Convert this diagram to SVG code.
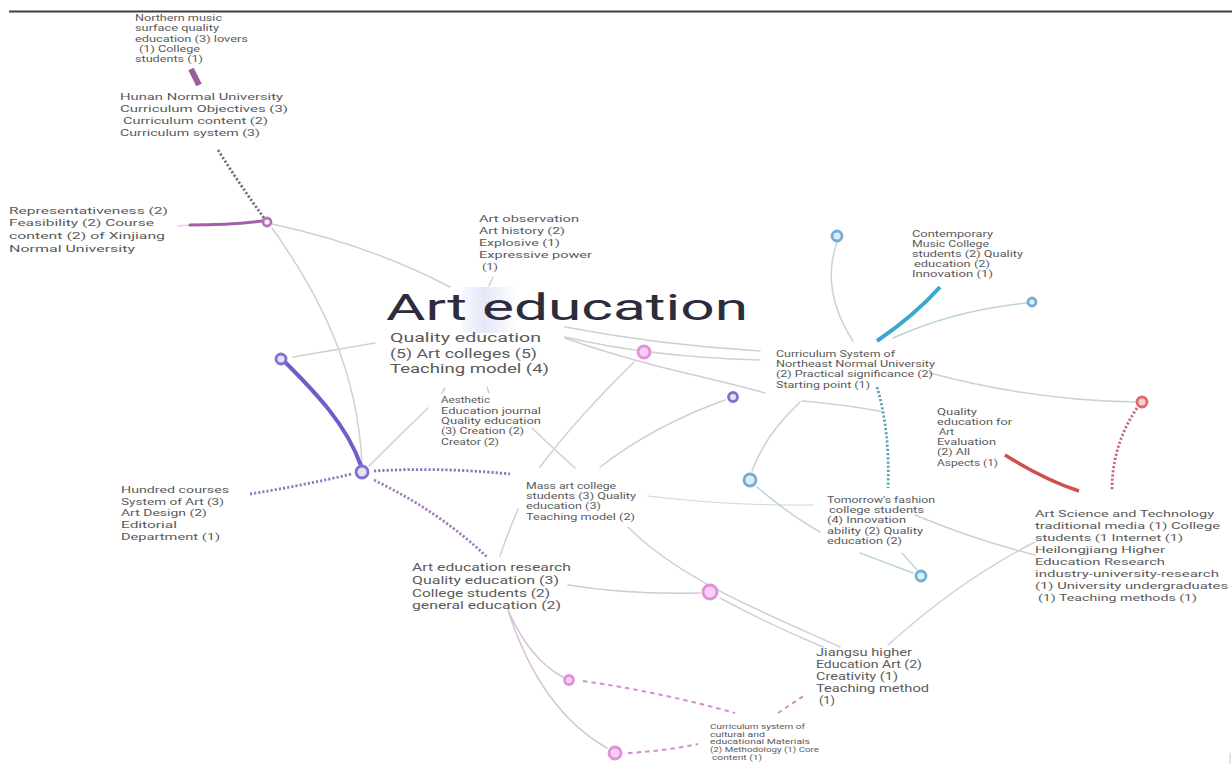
<svg xmlns="http://www.w3.org/2000/svg" width="1232" height="764" viewBox="0 0 1232 764">
<style>
text{font-family:Roboto,"Liberation Sans",sans-serif;fill:#5a5a5a;}
.t{font-size:36px;fill:#2c2c3c;}
.s13{font-size:12.8px;}.s11{font-size:10.2px;}.s10{font-size:9.6px;}.s9{font-size:8.5px;}.s8{font-size:8.5px;}.s6{font-size:6.3px;}
#connectors path{fill:none;stroke:#d0d0d3;stroke-width:1.5;stroke-linecap:round;}
#connectors path.thin{stroke:#b9c7c6;stroke-width:.8;stroke-dasharray:2 1;}
#connectors path.dot{stroke-width:2.8;stroke-dasharray:2.2 2;stroke-linecap:butt;}
#connectors path.dash{stroke-width:2;stroke-dasharray:4.5 4;stroke-linecap:butt;stroke:#d68ad0;}
circle{stroke-width:2.8;}
.p{stroke:#b273b4;fill:#faf2f9;}.v{stroke:#7f72cc;fill:#e4e0f6;}.k{stroke:#e08fdd;fill:#f6d0f3;}
.b{stroke:#74add6;fill:#e0edf6;}.r{stroke:#e0686e;fill:#f9cfd0;}
</style>
<defs>
<linearGradient id="hl" x1="0" y1="0" x2="1" y2="0"><stop offset="0" stop-color="#e6e8f9" stop-opacity=".3"/><stop offset=".4" stop-color="#e6e8f9"/><stop offset="1" stop-color="#e6e8f9" stop-opacity="0"/></linearGradient>
</defs>
<rect width="1232" height="764" fill="#fff"/>
<path d="M9 11.5H1232" stroke="#3f3f3f" stroke-width="1.8" fill="none"/>
<path d="M1230 753V764" stroke="#ccc" stroke-width="1" fill="none"/>
<rect x="462" y="287" width="56" height="46" fill="url(#hl)"/>
<g id="connectors">
<path d="M191 69L199 85" style="stroke:#9c5f9f;stroke-width:6;stroke-linecap:butt"/>
<path class="dot" d="M218 150Q240 185 264 218" style="stroke:#7c6a80"/>
<path d="M178 226L190 225" style="stroke:#e8cfe6"/>
<path d="M190 225Q230 225 262 221" style="stroke:#a35fa8;stroke-width:3"/>
<path d="M272 224Q370 245 450 287"/>
<path d="M272 228C320 295 358 370 362 465"/>
<path d="M285 362C315 392 347 425 361 466" style="stroke:#6c60c8;stroke-width:4"/>
<path d="M293 357L375 343"/>
<path d="M369 466Q400 435 428 408"/>
<path d="M442 393L445 388"/>
<path d="M487 387L489 393"/>
<path d="M493 277L489 286"/>
<path class="dot" d="M250 494Q300 486 352 474" style="stroke:#8a7fc0"/>
<path class="dot" d="M374 471Q440 467 510 474" style="stroke:#8f75b8"/>
<path class="dot" d="M374 480Q440 512 487 557" style="stroke:#a77cb8"/>
<path d="M634 362Q575 420 540 467"/>
<path d="M518 509Q507 535 500 556"/>
<path d="M565 327Q660 345 760 351"/>
<path d="M565 337Q650 357 760 360"/>
<path d="M565 338C640 365 700 375 765 393"/>
<path d="M802 401Q850 405 883 412"/>
<path d="M800 402Q765 435 752 471" style="stroke:#c5d0d8"/>
<path d="M725 400Q655 425 600 467"/>
<path d="M532 428Q555 450 575 468"/>
<path d="M837 242Q820 290 853 341" style="stroke:#c9d3d6"/>
<path d="M877 341Q915 315 940 287" style="stroke:#3ba8cb;stroke-width:4;stroke-linecap:butt"/>
<path d="M893 338Q955 310 1027 303" style="stroke:#bcd2d4"/>
<path d="M930 373Q1030 400 1135 402"/>
<path class="dot" d="M1137 408Q1112 445 1112 490" style="stroke:#c46b76"/>
<path d="M1005 455Q1045 480 1079 491" style="stroke:#cf4f50;stroke-width:3.5;stroke-linecap:butt"/>
<path class="dot" d="M877 387Q890 430 888 488" style="stroke:#5ea6b0"/>
<path d="M757 487Q790 515 820 532" style="stroke:#c3d3da"/>
<path class="thin" d="M648 496Q730 506 813 505"/>
<path d="M860 553L913 573" style="stroke:#bfd6dc"/>
<path d="M902 553L917 570" style="stroke:#bfd6dc"/>
<path d="M915 515Q975 540 1035 555"/>
<path d="M1035 542Q960 580 888 645"/>
<path d="M628 527C680 580 770 615 840 647"/>
<path d="M720 598Q770 625 823 647"/>
<path d="M568 585Q630 595 700 593" style="stroke:#d8c8d8"/>
<path d="M508 610Q530 660 563 677" style="stroke:#dcb9da"/>
<path d="M508 610Q540 710 607 748" style="stroke:#d5c4d6"/>
<path class="dash" d="M583 681Q660 692 735 713"/>
<path class="dash" d="M628 753Q665 751 698 744"/>
<path class="dash" d="M778 713L805 695"/>
</g>
<g id="n-dot-1"><circle class="p" cx="267" cy="222" r="4"/></g>
<g id="n-dot-2"><circle class="v" cx="281" cy="359" r="5"/></g>
<g id="n-dot-3"><circle class="v" cx="362" cy="472" r="6"/></g>
<g id="n-dot-4"><circle class="k" cx="644" cy="352" r="6"/></g>
<g id="n-dot-5"><circle class="v" cx="733" cy="397" r="4.5"/></g>
<g id="n-dot-6"><circle class="b" cx="837" cy="236" r="5"/></g>
<g id="n-dot-7"><circle class="b" cx="1032" cy="302" r="4"/></g>
<g id="n-dot-8"><circle class="b" cx="750" cy="480" r="6"/></g>
<g id="n-dot-9"><circle class="b" cx="921" cy="576" r="5"/></g>
<g id="n-dot-10"><circle class="r" cx="1142" cy="402" r="5"/></g>
<g id="n-dot-11"><circle class="k" cx="710" cy="592" r="7"/></g>
<g id="n-dot-12"><circle class="k" cx="569" cy="680" r="4.5"/></g>
<g id="n-dot-13"><circle class="k" cx="615" cy="753" r="6"/></g>

<g id="n-northern">
<text class="s8" x="135" y="21" textLength="87" lengthAdjust="spacingAndGlyphs">Northern music</text>
<text class="s8" x="135" y="31" textLength="84" lengthAdjust="spacingAndGlyphs">surface quality</text>
<text class="s8" x="135" y="41.5" textLength="113" lengthAdjust="spacingAndGlyphs">education (3) lovers</text>
<text class="s8" x="139" y="52" textLength="61" lengthAdjust="spacingAndGlyphs">(1) College</text>
<text class="s8" x="135" y="62" textLength="68" lengthAdjust="spacingAndGlyphs">students (1)</text>
</g>
<g id="n-hunan">
<text class="s10" x="120" y="100" textLength="163" lengthAdjust="spacingAndGlyphs">Hunan Normal University</text>
<text class="s10" x="120" y="112" textLength="168" lengthAdjust="spacingAndGlyphs">Curriculum Objectives (3)</text>
<text class="s10" x="123" y="124" textLength="145" lengthAdjust="spacingAndGlyphs">Curriculum content (2)</text>
<text class="s10" x="120" y="136" textLength="140" lengthAdjust="spacingAndGlyphs">Curriculum system (3)</text>
</g>
<g id="n-xinjiang">
<text class="s10" x="9" y="214" textLength="159" lengthAdjust="spacingAndGlyphs">Representativeness (2)</text>
<text class="s10" x="9" y="226" textLength="145" lengthAdjust="spacingAndGlyphs">Feasibility (2) Course</text>
<text class="s10" x="9" y="239" textLength="156" lengthAdjust="spacingAndGlyphs">content (2) of Xinjiang</text>
<text class="s10" x="9" y="252" textLength="126" lengthAdjust="spacingAndGlyphs">Normal University</text>
</g>
<g id="n-observation">
<text class="s10" x="479" y="222" textLength="100" lengthAdjust="spacingAndGlyphs">Art observation</text>
<text class="s10" x="479" y="234" textLength="86" lengthAdjust="spacingAndGlyphs">Art history (2)</text>
<text class="s10" x="479" y="246" textLength="81" lengthAdjust="spacingAndGlyphs">Explosive (1)</text>
<text class="s10" x="479" y="258" textLength="113" lengthAdjust="spacingAndGlyphs">Expressive power</text>
<text class="s10" x="482" y="270" textLength="16" lengthAdjust="spacingAndGlyphs">(1)</text>
</g>
<g id="n-center">
<text class="t" x="386" y="320" textLength="362" lengthAdjust="spacingAndGlyphs">Art education</text>
<text class="s13" x="390" y="342" textLength="151" lengthAdjust="spacingAndGlyphs">Quality education</text>
<text class="s13" x="390" y="357.5" textLength="147" lengthAdjust="spacingAndGlyphs">(5) Art colleges (5)</text>
<text class="s13" x="390" y="372.5" textLength="159" lengthAdjust="spacingAndGlyphs">Teaching model (4)</text>
</g>
<g id="n-aesthetic">
<text class="s8" x="441" y="403" textLength="49" lengthAdjust="spacingAndGlyphs">Aesthetic</text>
<text class="s8" x="441" y="414" textLength="100" lengthAdjust="spacingAndGlyphs">Education journal</text>
<text class="s8" x="441" y="424" textLength="100" lengthAdjust="spacingAndGlyphs">Quality education</text>
<text class="s8" x="441" y="434" textLength="83" lengthAdjust="spacingAndGlyphs">(3) Creation (2)</text>
<text class="s8" x="441" y="445" textLength="58" lengthAdjust="spacingAndGlyphs">Creator (2)</text>
</g>
<g id="n-northeast">
<text class="s9" x="776" y="357" textLength="119" lengthAdjust="spacingAndGlyphs">Curriculum System of</text>
<text class="s9" x="776" y="367" textLength="159" lengthAdjust="spacingAndGlyphs">Northeast Normal University</text>
<text class="s9" x="776" y="377" textLength="157" lengthAdjust="spacingAndGlyphs">(2) Practical significance (2)</text>
<text class="s9" x="776" y="388" textLength="94" lengthAdjust="spacingAndGlyphs">Starting point (1)</text>
</g>
<g id="n-contemporary">
<text class="s8" x="912" y="237" textLength="81" lengthAdjust="spacingAndGlyphs">Contemporary</text>
<text class="s8" x="912" y="247" textLength="77" lengthAdjust="spacingAndGlyphs">Music College</text>
<text class="s8" x="912" y="257" textLength="111" lengthAdjust="spacingAndGlyphs">students (2) Quality</text>
<text class="s8" x="914" y="267" textLength="76" lengthAdjust="spacingAndGlyphs">education (2)</text>
<text class="s8" x="912" y="277" textLength="81" lengthAdjust="spacingAndGlyphs">Innovation (1)</text>
</g>
<g id="n-evaluation">
<text class="s8" x="937" y="415" textLength="40" lengthAdjust="spacingAndGlyphs">Quality</text>
<text class="s8" x="937" y="425" textLength="75" lengthAdjust="spacingAndGlyphs">education for</text>
<text class="s8" x="939" y="435" textLength="15" lengthAdjust="spacingAndGlyphs">Art</text>
<text class="s8" x="937" y="445" textLength="59" lengthAdjust="spacingAndGlyphs">Evaluation</text>
<text class="s8" x="937" y="455" textLength="33" lengthAdjust="spacingAndGlyphs">(2) All</text>
<text class="s8" x="937" y="466" textLength="61" lengthAdjust="spacingAndGlyphs">Aspects (1)</text>
</g>
<g id="n-tomorrow">
<text class="s9" x="827" y="503" textLength="108" lengthAdjust="spacingAndGlyphs">Tomorrow's fashion</text>
<text class="s9" x="829" y="513" textLength="95" lengthAdjust="spacingAndGlyphs">college students</text>
<text class="s9" x="827" y="523" textLength="79" lengthAdjust="spacingAndGlyphs">(4) Innovation</text>
<text class="s9" x="827" y="534" textLength="96" lengthAdjust="spacingAndGlyphs">ability (2) Quality</text>
<text class="s9" x="827" y="544" textLength="75" lengthAdjust="spacingAndGlyphs">education (2)</text>
</g>
<g id="n-science">
<text class="s10" x="1035" y="517" textLength="179" lengthAdjust="spacingAndGlyphs">Art Science and Technology</text>
<text class="s10" x="1035" y="529" textLength="185" lengthAdjust="spacingAndGlyphs">traditional media (1) College</text>
<text class="s10" x="1035" y="541" textLength="148" lengthAdjust="spacingAndGlyphs">students (1 Internet (1)</text>
<text class="s10" x="1035" y="553" textLength="130" lengthAdjust="spacingAndGlyphs">Heilongjiang Higher</text>
<text class="s10" x="1035" y="565" textLength="130" lengthAdjust="spacingAndGlyphs">Education Research</text>
<text class="s10" x="1035" y="577" textLength="184" lengthAdjust="spacingAndGlyphs">industry-university-research</text>
<text class="s10" x="1035" y="589" textLength="193" lengthAdjust="spacingAndGlyphs">(1) University undergraduates</text>
<text class="s10" x="1038" y="601" textLength="159" lengthAdjust="spacingAndGlyphs">(1) Teaching methods (1)</text>
</g>
<g id="n-jiangsu">
<text class="s11" x="816" y="656" textLength="96" lengthAdjust="spacingAndGlyphs">Jiangsu higher</text>
<text class="s11" x="816" y="668" textLength="106" lengthAdjust="spacingAndGlyphs">Education Art (2)</text>
<text class="s11" x="816" y="680" textLength="82" lengthAdjust="spacingAndGlyphs">Creativity (1)</text>
<text class="s11" x="816" y="692" textLength="113" lengthAdjust="spacingAndGlyphs">Teaching method</text>
<text class="s11" x="819" y="704" textLength="16" lengthAdjust="spacingAndGlyphs">(1)</text>
</g>
<g id="n-cultural">
<text class="s6" x="710" y="729" textLength="95" lengthAdjust="spacingAndGlyphs">Curriculum system of</text>
<text class="s6" x="710" y="736.5" textLength="55" lengthAdjust="spacingAndGlyphs">cultural and</text>
<text class="s6" x="710" y="744" textLength="100" lengthAdjust="spacingAndGlyphs">educational Materials</text>
<text class="s6" x="710" y="752" textLength="109" lengthAdjust="spacingAndGlyphs">(2) Methodology (1) Core</text>
<text class="s6" x="712" y="760" textLength="50" lengthAdjust="spacingAndGlyphs">content (1)</text>
</g>
<g id="n-research">
<text class="s11" x="412" y="571" textLength="159" lengthAdjust="spacingAndGlyphs">Art education research</text>
<text class="s11" x="412" y="584" textLength="147" lengthAdjust="spacingAndGlyphs">Quality education (3)</text>
<text class="s11" x="412" y="597" textLength="138" lengthAdjust="spacingAndGlyphs">College students (2)</text>
<text class="s11" x="412" y="609" textLength="149" lengthAdjust="spacingAndGlyphs">general education (2)</text>
</g>
<g id="n-mass">
<text class="s9" x="526" y="489" textLength="90" lengthAdjust="spacingAndGlyphs">Mass art college</text>
<text class="s9" x="526" y="499" textLength="110" lengthAdjust="spacingAndGlyphs">students (3) Quality</text>
<text class="s9" x="526" y="509" textLength="75" lengthAdjust="spacingAndGlyphs">education (3)</text>
<text class="s9" x="526" y="520" textLength="109" lengthAdjust="spacingAndGlyphs">Teaching model (2)</text>
</g>
<g id="n-hundred">
<text class="s10" x="121" y="493" textLength="108" lengthAdjust="spacingAndGlyphs">Hundred courses</text>
<text class="s10" x="121" y="504.5" textLength="103" lengthAdjust="spacingAndGlyphs">System of Art (3)</text>
<text class="s10" x="121" y="516" textLength="86" lengthAdjust="spacingAndGlyphs">Art Design (2)</text>
<text class="s10" x="121" y="528" textLength="56" lengthAdjust="spacingAndGlyphs">Editorial</text>
<text class="s10" x="121" y="540" textLength="99" lengthAdjust="spacingAndGlyphs">Department (1)</text>
</g>
</svg>
